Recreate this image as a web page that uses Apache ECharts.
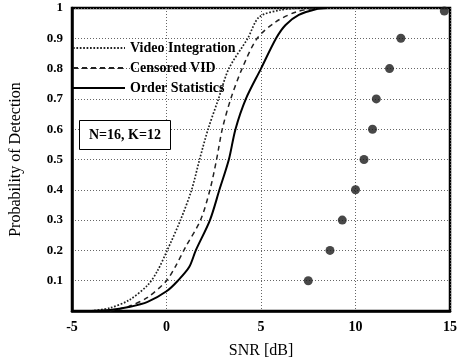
<!DOCTYPE html>
<html>
<head>
<meta charset="utf-8">
<script src="https://cdn.jsdelivr.net/npm/echarts@6/dist/echarts.min.js"></script>
<style>
  html, body { margin: 0; padding: 0; background: #fff; }
  #chart { width: 460px; height: 364px; }
</style>
</head>
<body>
<div id="chart"></div>
<script>
// curve data: [SNR dB, Pd]
const videoIntegration = [
  [-4, 0], [-3, 0.01], [-2, 0.035], [-1, 0.085], [-0.5, 0.13], [0, 0.195],
  [0.74, 0.3], [1.33, 0.4], [1.75, 0.5], [2.2, 0.6], [2.75, 0.7], [3.3, 0.8],
  [4.3, 0.9], [4.9, 0.97], [6, 0.993], [7, 1]
]
const censoredVid = [
  [-3, 0], [-2, 0.015], [-1, 0.045], [0, 0.1], [0.5, 0.15], [1.0, 0.21],
  [1.8, 0.3], [2.3, 0.4], [2.65, 0.5], [2.95, 0.6], [3.4, 0.7], [4.0, 0.8],
  [4.8, 0.9], [5.8, 0.955], [6.9, 0.988], [8, 1]
]
const orderStatistics = [
  [-4, 0], [-3, 0.003], [-2, 0.013], [-1, 0.03], [0, 0.065], [0.6, 0.1],
  [1.2, 0.145], [1.55, 0.2], [2.3, 0.3], [2.8, 0.4], [3.3, 0.5], [3.65, 0.6],
  [4.2, 0.7], [5.0, 0.8], [5.8, 0.9], [6.3, 0.944], [7.0, 0.977], [7.9, 0.996], [8.5, 1]
]
const measured = [
  [7.5, 0.1], [8.65, 0.2], [9.3, 0.3], [10.0, 0.4], [10.45, 0.5],
  [10.9, 0.6], [11.1, 0.7], [11.8, 0.8], [12.4, 0.9], [14.7, 0.99]
]
const seriesNames = ['Video Integration', 'Censored VID', 'Order Statistics']
const paramText = 'N=16, K=12'

const serif = '"Liberation Serif", "DejaVu Serif", serif'

const chart = echarts.init(document.getElementById('chart'))

chart.setOption({
  animation: false,
  backgroundColor: '#fff',
  grid: {
    left: 69, right: 10, top: 8, bottom: 50,
    show: true, borderColor: '#000', borderWidth: 2.5
  },
  title: {
    text: paramText,
    left: 79, top: 120,
    padding: [8, 10],
    borderColor: '#000',
    borderWidth: 1,
    backgroundColor: '#fff',
    textStyle: { fontFamily: serif, fontSize: 14, fontWeight: 'bold', color: '#000' }
  },
  legend: {
    data: seriesNames,
    orient: 'vertical',
    left: 67, top: 36,
    itemWidth: 52, itemHeight: 14, itemGap: 6,
    itemStyle: { opacity: 0 },
    textStyle: { fontFamily: serif, fontSize: 14, fontWeight: 'bold', color: '#000' }
  },
  xAxis: {
    type: 'value',
    min: -5, max: 15, interval: 5,
    name: 'SNR [dB]',
    nameLocation: 'middle',
    nameGap: 32,
    nameTextStyle: { fontFamily: serif, fontSize: 16, color: '#000' },
    axisLine: { show: true, onZero: false, lineStyle: { color: '#000', width: 2.5 } },
    axisTick: { show: false },
    axisLabel: { fontFamily: serif, fontSize: 14, fontWeight: 'bold', color: '#000', margin: 9 },
    splitLine: { show: true, lineStyle: { color: '#666', type: [1, 2], width: 1 } }
  },
  yAxis: {
    type: 'value',
    min: 0, max: 1, interval: 0.1,
    name: 'Probability of Detection',
    nameLocation: 'middle',
    nameGap: 48,
    nameTextStyle: { fontFamily: serif, fontSize: 16, color: '#000' },
    axisLine: { show: true, onZero: false, lineStyle: { color: '#000', width: 2.5 } },
    axisTick: { show: false },
    axisLabel: {
      fontFamily: serif, fontSize: 13, fontWeight: 'bold', color: '#000', margin: 9,
      formatter: v => (v === 0 ? '' : String(+v.toFixed(1)))
    },
    splitLine: { show: true, lineStyle: { color: '#666', type: [1, 2], width: 1 } }
  },
  series: [
    {
      name: seriesNames[0],
      type: 'line',
      data: videoIntegration,
      symbol: 'none',
      smooth: 0.3,
      lineStyle: { color: '#222', width: 1.7, type: [1.7, 1.7] },
      itemStyle: { color: '#222' }
    },
    {
      name: seriesNames[1],
      type: 'line',
      data: censoredVid,
      symbol: 'none',
      smooth: 0.3,
      lineStyle: { color: '#222', width: 1.5, type: [5, 4] },
      itemStyle: { color: '#222' }
    },
    {
      name: seriesNames[2],
      type: 'line',
      data: orderStatistics,
      symbol: 'none',
      smooth: 0.3,
      lineStyle: { color: '#000', width: 2 },
      itemStyle: { color: '#000' }
    },
    {
      name: 'Measured',
      type: 'scatter',
      data: measured,
      symbol: 'circle',
      symbolSize: 9,
      itemStyle: { color: '#1a1a1a' }
    }
  ]
})
</script>
</body>
</html>
